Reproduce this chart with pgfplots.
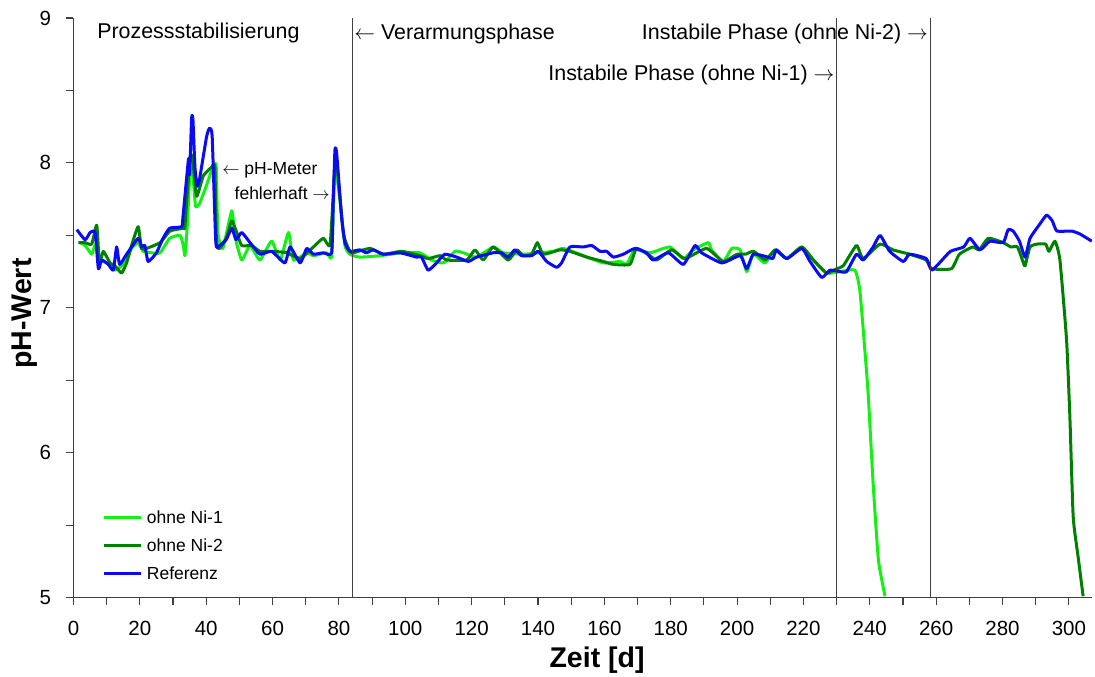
\documentclass[border=0pt]{standalone}
\usepackage{fontspec}
\setmainfont{Liberation Sans}
\usepackage{pgfplots}
\pgfplotsset{compat=1.18}
\definecolor{lgreen}{RGB}{20,240,20}
\definecolor{dgreen}{RGB}{0,128,0}
\definecolor{refblue}{RGB}{10,10,245}
\definecolor{axgray}{RGB}{64,64,64}
\newcommand\tickfont{\fontsize{20.5}{24}\selectfont}
\newcommand\annfont{\fontsize{21.4}{25}\selectfont}
\newcommand\smallfont{\fontsize{17.5}{21}\selectfont}
\newcommand\labfont{\fontsize{28.5}{32}\selectfont\bfseries}
\newcommand\la{$\leftarrow$}
\newcommand\ra{$\rightarrow$}
\begin{document}
\begin{tikzpicture}
\useasboundingbox (-73.5pt,-79.3pt) rectangle (1021.5pt,597.7pt);
\begin{axis}[
  scale only axis, width=1018.6pt, height=579.7pt,
  xmin=0, xmax=307, ymin=5, ymax=9,
  axis x line*=bottom, axis y line*=left, axis line style={-, axgray, line width=1.3pt},
  tick pos=left,
  every tick/.style={axgray, line width=1.1pt},
  tick align=outside, major tick length=7pt, minor tick length=7pt,
  xtick={0,20,...,300}, minor xtick={10,30,...,310},
  ytick={5,6,7,8,9}, minor ytick={5.5,6.5,7.5,8.5},
  tick label style={font=\tickfont}, /pgf/number format/assume math mode=true,
  xticklabel style={yshift=-13pt},
  yticklabel style={xshift=-12pt},
  xlabel={Zeit [d]}, ylabel={pH-Wert},
  xlabel style={font=\labfont, at={(rel axis cs:0.514,0)}, anchor=center, yshift=-62pt},
  ylabel style={font=\labfont, at={(rel axis cs:0,0.49)}, anchor=center, yshift=48.5pt},
  legend image code/.code={\draw[#1] (0pt,0pt) -- (37pt,0pt);},
  legend style={draw=none, fill=none, font=\smallfont, at={(axis cs:8.8,5.1)}, anchor=south west, inner sep=0pt, row sep=10pt, column sep=2pt, cells={anchor=west}},
  every axis plot/.append style={line width=3pt, line join=round, smooth, tension=0.3},
]
\addplot[lgreen] coordinates {
(2,7.45) (3.5,7.43) (5.5,7.37) (6.5,7.43) (8,7.33) (10,7.31) (12.5,7.26) (14.5,7.29) (16,7.33) (17.5,7.41) (19.5,7.45) (21,7.39) (23.5,7.38) (26.1,7.38) (29,7.48) (32.1,7.50) (33.1,7.43) (33.6,7.36) (34.3,7.57) (35.2,7.97) (36,7.91) (36.8,7.70) (38,7.72) (40,7.84) (42,7.97) (43,7.98) (43.5,7.52) (45,7.41) (47.7,7.67) (48.7,7.49) (50.7,7.33) (53.2,7.43) (56.2,7.33) (59.7,7.46) (62.3,7.33) (64.8,7.52) (66.3,7.33) (70.3,7.38) (72.3,7.36) (76.3,7.38) (77.8,7.36) (78.8,7.97) (80.3,7.74) (81.8,7.43) (83.3,7.37)
(86.3,7.35) (92.4,7.36) (98.9,7.38) (104.4,7.38) (107.9,7.33) (111.5,7.31) (115,7.39) (117.5,7.38) (121.5,7.35) (126.5,7.42) (129.5,7.38) (135.6,7.37) (140.6,7.38) (144.6,7.39) (147.6,7.41) (152.6,7.37) (159.7,7.31) (164.7,7.32) (166.7,7.30) (169.2,7.40) (173.8,7.38) (179.7,7.42) (183.8,7.34) (186.8,7.40) (191.3,7.45) (192.3,7.40) (195.8,7.32) (198.4,7.41) (200.9,7.40) (202.9,7.25) (204.9,7.37) (208.4,7.31) (211.4,7.40) (214.9,7.34) (219.5,7.42) (223,7.33) (227,7.24) (231,7.25) (235.5,7.26) (237,7.12) (238.5,6.71) (239.5,6.41) (241,5.79) (242.6,5.26) (244.6,5.01)
};
\addlegendentry{ohne Ni-1}
\addplot[dgreen] coordinates {
(1.5,7.45) (3.5,7.45) (5.5,7.44) (7,7.57) (7.8,7.31) (9,7.39) (11,7.31) (12.5,7.29) (14.5,7.24) (16,7.31) (17.5,7.43) (19.5,7.56) (20.5,7.41) (22,7.41) (26.1,7.45) (29.1,7.53) (33.1,7.55) (33.6,7.57) (35.1,8.04) (35.9,8.03) (37.1,7.77) (39.1,7.91) (41.6,7.97) (42.6,7.97) (43.1,7.45) (44.1,7.41) (46.2,7.49) (47.7,7.60) (49.2,7.52) (50.7,7.43) (53.7,7.43) (56.2,7.39) (60.2,7.39) (64.3,7.38) (68.3,7.34) (72.3,7.42) (75.3,7.48) (77.3,7.43) (78.3,7.79) (79.1,8.05) (81.3,7.52) (83.3,7.39)
(84.3,7.38) (89.4,7.41) (93.4,7.37) (98.9,7.39) (104.4,7.36) (106.9,7.34) (110.5,7.36) (112.5,7.33) (118.5,7.33) (121,7.40) (123.5,7.33) (126.5,7.42) (131,7.33) (133.6,7.40) (135.6,7.36) (138.1,7.37) (139.8,7.45) (141.6,7.37) (146.6,7.40) (149.6,7.39) (154.7,7.35) (159.7,7.32) (162.7,7.30) (167.7,7.30) (169.7,7.41) (173.7,7.36) (175.8,7.33) (180.3,7.40) (184.3,7.34) (190.8,7.41) (195.8,7.32) (200,7.37) (202.5,7.37) (205,7.39) (208.5,7.33) (211.5,7.40) (215,7.34) (219.5,7.42) (223,7.33) (227,7.24) (230,7.27) (232,7.29) (236,7.43) (238,7.34) (243.1,7.44) (247,7.40) (252,7.37) (257,7.33) (258.6,7.27) (264.6,7.27) (267,7.37) (271,7.42) (273,7.40) (275.7,7.48) (280.2,7.45) (282.5,7.42) (284.5,7.42) (286.3,7.31) (286.8,7.29) (288.3,7.42) (290.5,7.44) (293,7.44) (294,7.39) (295.8,7.46) (297.3,7.33) (299.3,6.78) (300.3,6.25) (301.3,5.56) (302.8,5.28) (304.3,5.01)
};
\addlegendentry{ohne Ni-2}
\addplot[refblue] coordinates {
(1,7.54) (3.5,7.47) (5,7.52) (6.5,7.52) (7.5,7.27) (8.5,7.33) (10.5,7.30) (12,7.26) (13,7.42) (13.9,7.30) (16,7.37) (19.5,7.48) (20.5,7.42) (21.5,7.43) (22.5,7.32) (25,7.38) (27,7.48) (29,7.55) (32.6,7.56) (33,7.63) (34.4,7.97) (34.7,8.03) (35,7.92) (35.6,8.31) (36,8.30) (36.6,7.97) (37.3,7.84) (38,7.89) (40.1,8.18) (41,8.24) (41.8,8.18) (42.9,7.45) (44,7.43) (46,7.47) (47.7,7.55) (49,7.47) (50.7,7.52) (53.2,7.45) (56.2,7.37) (59.7,7.39) (63.7,7.31) (65.3,7.42) (68.3,7.31) (70.3,7.41) (72.3,7.37) (75.3,7.38) (77.8,7.38) (78.3,7.74) (78.8,8.09) (79.3,8.07) (80.8,7.63) (81.8,7.45) (83.3,7.39)
(86.3,7.40) (88.3,7.38) (90.3,7.40) (93.4,7.37) (98.4,7.38) (103.4,7.35) (104.9,7.35) (106.9,7.26) (109.4,7.31) (111.9,7.37) (115.5,7.35) (119,7.32) (121.5,7.35) (126.5,7.38) (129,7.38) (131,7.35) (133,7.40) (135,7.36) (138.1,7.36) (140.1,7.39) (142.6,7.32) (145.6,7.28) (147.1,7.31) (149.6,7.42) (153.6,7.42) (156.2,7.43) (158.7,7.39) (160.7,7.39) (162.7,7.35) (165.7,7.37) (169.2,7.41) (172.7,7.38) (174.7,7.33) (179.3,7.38) (183.8,7.30) (187.3,7.43) (189.3,7.38) (195.4,7.31) (200.9,7.36) (202.9,7.27) (204.9,7.37) (209.3,7.35) (210.8,7.34) (211.9,7.40) (215,7.34) (219.5,7.41) (222,7.32) (225.5,7.21) (228,7.26) (231,7.25) (233,7.25) (236,7.37) (238,7.33) (241,7.42) (243.1,7.50) (246,7.39) (250.1,7.32) (252,7.37) (257,7.34) (258.6,7.26) (261,7.31) (264.3,7.39) (268.3,7.42) (270.2,7.48) (273.2,7.40) (276.2,7.46) (280.2,7.45) (281.7,7.54) (283.2,7.53) (285.1,7.46) (286.8,7.35) (288.3,7.48) (291.3,7.58) (293.3,7.64) (295,7.60) (296.4,7.53) (300.8,7.53) (303.3,7.51) (306.9,7.46)
};
\addlegendentry{Referenz}
\addplot[axgray, line width=1.3pt, sharp plot, forget plot] coordinates {(84,5) (84,9)};
\addplot[axgray, line width=1.3pt, sharp plot, forget plot] coordinates {(230,5) (230,9)};
\addplot[axgray, line width=1.3pt, sharp plot, forget plot] coordinates {(258.3,5) (258.3,9)};
\node[font=\annfont, anchor=west, inner sep=0pt] at (axis cs:7.1,8.9) {Prozessstabilisierung};
\node[font=\annfont, anchor=west, inner sep=0pt] at (axis cs:84.6,8.89) {\la{} Verarmungsphase};
\node[font=\annfont, anchor=east, inner sep=0pt] at (axis cs:257.6,8.89) {Instabile Phase (ohne Ni-2) \ra};
\node[font=\annfont, anchor=east, inner sep=0pt] at (axis cs:229.4,8.61) {Instabile Phase (ohne Ni-1) \ra};
\node[font=\smallfont, anchor=west, inner sep=0pt] at (axis cs:44.8,7.95) {\la{} pH-Meter};
\node[font=\smallfont, anchor=east, inner sep=0pt] at (axis cs:77.3,7.79) {fehlerhaft \ra};
\end{axis}
\end{tikzpicture}
\end{document}
